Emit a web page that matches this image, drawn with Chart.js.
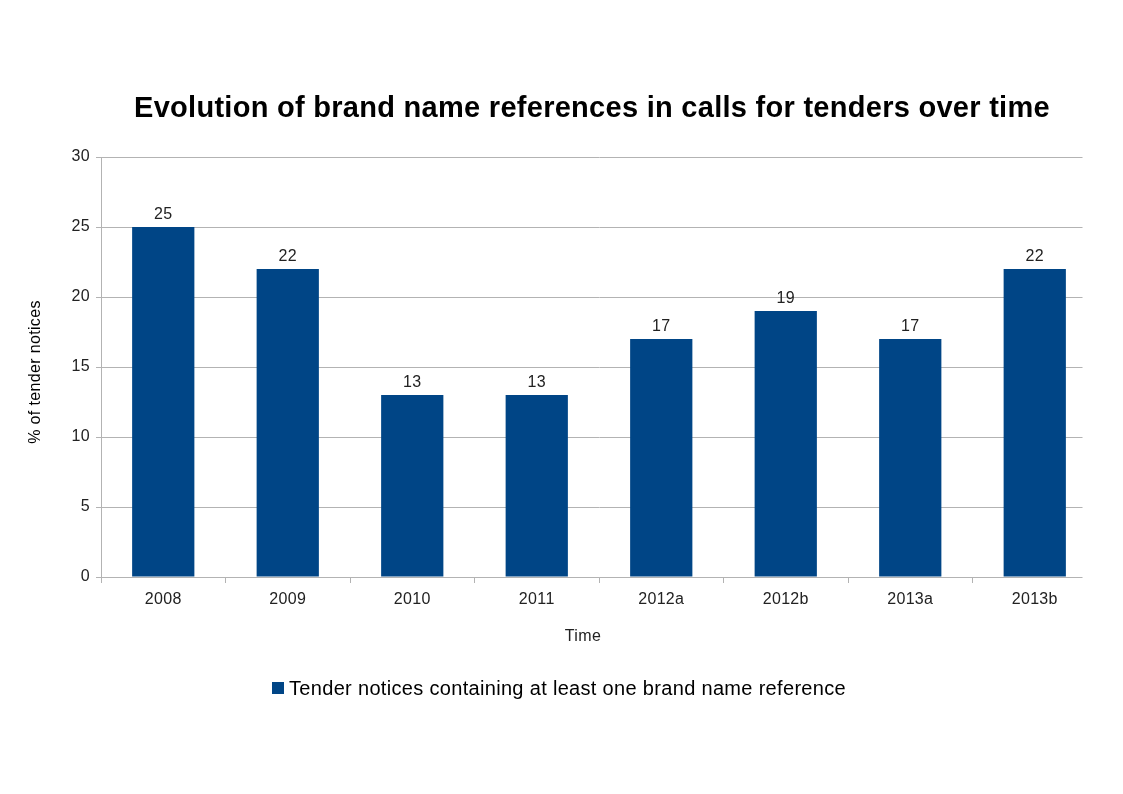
<!DOCTYPE html>
<html>
<head>
<meta charset="utf-8">
<script src="https://cdn.jsdelivr.net/npm/chart.js@4/dist/chart.umd.min.js"></script>
<style>
html,body{margin:0;padding:0;background:#fff;}
#wrap{width:1123px;height:794px;position:relative;}
</style>
</head>
<body>
<div id="wrap"><canvas id="c" width="1123" height="794"></canvas></div>
<script>
const categories = ["2008", "2009", "2010", "2011", "2012a", "2012b", "2013a", "2013b"];
const seriesValues = [25, 22, 13, 13, 17, 19, 17, 22];
const seriesLabel = "Tender notices containing at least one brand name reference";
const chartTitle = "Evolution of brand name references in calls for tenders over time";
const yAxisTitle = "% of tender notices";
const xAxisTitle = "Time";
const yTicks = [0, 5, 10, 15, 20, 25, 30];

const FONT = "'Liberation Sans', Arial, sans-serif";
const BAR = "#004586";
const GRID = "#b3b3b3";
const PLOT_RIGHT_CLIP = 1082;

const extrasPlugin = {
  id: 'extras',
  beforeDraw(chart) {
    chart.ctx.letterSpacing = '0.35px';
  },
  afterDatasetsDraw(chart) {
    const ctx = chart.ctx;
    const meta = chart.getDatasetMeta(0);
    ctx.save();
    ctx.fillStyle = '#222';
    ctx.font = "16px " + FONT;
    ctx.letterSpacing = '0.35px';
    ctx.textAlign = 'center';
    ctx.textBaseline = 'middle';
    meta.data.forEach((bar, i) => {
      ctx.fillText(String(seriesValues[i]), bar.x, bar.y - 12);
    });
    ctx.restore();
  },
  afterDraw(chart) {
    const ctx = chart.ctx;
    const area = chart.chartArea;
    ctx.save();
    // the plot frame stops short of the last category's end
    ctx.fillStyle = '#fff';
    ctx.fillRect(PLOT_RIGHT_CLIP + 0.5, area.top - 5, area.right - PLOT_RIGHT_CLIP + 10, area.bottom - area.top + 15);
    // axis titles
    ctx.fillStyle = '#222';
    ctx.font = "16px " + FONT;
    ctx.letterSpacing = '0.35px';
    ctx.textAlign = 'center';
    ctx.textBaseline = 'middle';
    ctx.fillText(xAxisTitle, 583, 637);
    ctx.save();
    ctx.translate(36, 372);
    ctx.rotate(-Math.PI / 2);
    ctx.fillStyle = '#000';
    ctx.fillText(yAxisTitle, 0, 0);
    ctx.restore();
    // title
    ctx.fillStyle = '#000';
    ctx.font = "bold 29px " + FONT;
    ctx.letterSpacing = '0.28px';
    ctx.textAlign = 'center';
    ctx.textBaseline = 'middle';
    ctx.fillText(chartTitle, 592, 109);
    // legend
    ctx.fillStyle = BAR;
    ctx.fillRect(272, 682, 12, 12);
    ctx.fillStyle = '#000';
    ctx.font = "20px " + FONT;
    ctx.letterSpacing = '0.32px';
    ctx.textAlign = 'left';
    ctx.fillText(chart.data.datasets[0].label, 289, 689);
    ctx.restore();
  }
};

new Chart(document.getElementById('c'), {
  type: 'bar',
  data: {
    labels: categories,
    datasets: [{
      label: seriesLabel,
      data: seriesValues,
      backgroundColor: BAR,
      borderWidth: 0,
      barPercentage: 0.5,
      categoryPercentage: 1.0
    }]
  },
  options: {
    responsive: false,
    animation: false,
    devicePixelRatio: 1,
    layout: { padding: { left: 0, top: 157, right: 26, bottom: 137 } },
    plugins: {
      legend: { display: false },
      title: { display: false },
      tooltip: { enabled: false }
    },
    scales: {
      x: {
        offset: true,
        grid: {
          offset: true,
          drawOnChartArea: false,
          drawTicks: true,
          tickLength: 6,
          color: GRID
        },
        border: { display: true, color: GRID, width: 1 },
        ticks: { color: '#222', font: { family: FONT, size: 16 }, padding: 7, maxRotation: 0 },
        title: { display: false },
        afterFit(scale) { scale.height = 80; }
      },
      y: {
        min: 0,
        max: 30,
        afterBuildTicks(scale) { scale.ticks = yTicks.map(v => ({ value: v })); },
        grid: { color: GRID, tickLength: 5, drawTicks: true },
        border: { display: true, color: GRID, width: 1 },
        ticks: { color: '#222', font: { family: FONT, size: 16 }, padding: 6 },
        title: { display: false },
        afterFit(scale) { scale.width = 101; }
      }
    }
  },
  plugins: [extrasPlugin]
});
</script>
</body>
</html>
